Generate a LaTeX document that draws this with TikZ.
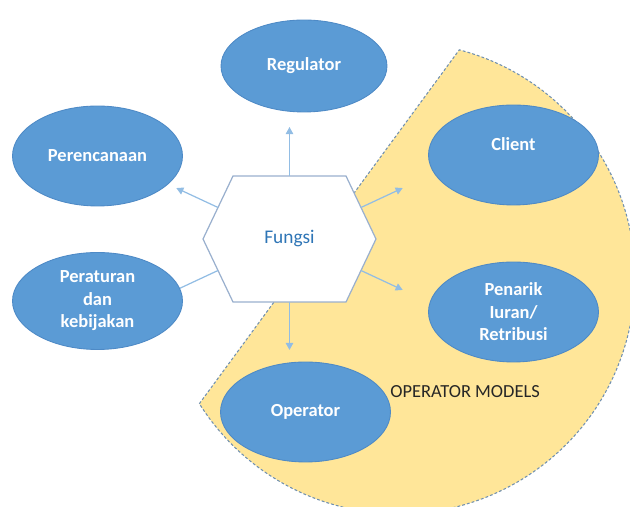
\documentclass[tikz,border=0pt]{standalone}
\usepackage{fontspec}
\setmainfont{Carlito}
\usepackage{tikz}
\usetikzlibrary{shapes.geometric, arrows.meta, calc}
\definecolor{opblue}{HTML}{5B9BD5}
\definecolor{opedge}{HTML}{4E8AC6}
\definecolor{opgold}{HTML}{FFE699}
\definecolor{opdash}{HTML}{7090B0}
\definecolor{ophex}{HTML}{9AB0CE}
\definecolor{oplink}{HTML}{92BDE4}
\definecolor{optext}{HTML}{2E75B6}
\tikzset{
  op ellipse/.style={
    ellipse, draw=opedge, fill=opblue, line width=0.5pt,
    minimum width=3.4cm, minimum height=2cm,
    text=white, align=center, inner sep=0pt,
    font=\fontsize{10.5}{12.8}\selectfont\bfseries
  },
  op hex/.style={
    draw=ophex, fill=white, line width=0.7pt
  },
  op zone/.style={
    fill=opgold, draw=opdash, line width=0.6pt,
    dash pattern=on 1.6pt off 1.2pt
  },
  op link/.style={
    -{Triangle[length=4pt,width=4.2pt]}, draw=oplink, line width=0.7pt
  },
  op label/.style={
    font=\fontsize{10.5}{12.8}\selectfont, text=black!85, inner sep=0pt
  }
}

\begin{document}
\begin{tikzpicture}[x=0.02cm, y=0.02cm]
  \useasboundingbox (0,0) rectangle (630,507);

  % operator models zone
  \coordinate (zc) at (399,229);
  \path[op zone] ($(zc)+(212.2:236)$) -- ($(zc)+(75.2:236)$)
    arc[start angle=75.2, end angle=-147.8, radius=4.72cm] -- cycle;

  % fungsi hexagon
  \coordinate (hx) at (289.5,268);
  \draw[op hex] ($(hx)+(-86.5,0)$) -- ++(30,63) -- ++(113,0) -- ++(30,-63)
    -- ++(-30,-63) -- ++(-113,0) -- cycle;
  \node (fungsi) at (hx) [font=\fontsize{11}{13}\selectfont, text=optext] {Fungsi};

  \coordinate (e-n)  at ($(hx)+(0,63)$);
  \coordinate (e-s)  at ($(hx)+(0,-63)$);
  \coordinate (e-nw) at ($(hx)+(-71.5,31.5)$);
  \coordinate (e-sw) at ($(hx)+(-71.5,-31.5)$);
  \coordinate (e-ne) at ($(hx)+(71.5,31.5)$);
  \coordinate (e-se) at ($(hx)+(71.5,-31.5)$);

  \coordinate (t-n)  at ($(e-n)+(90:49)$);
  \coordinate (t-s)  at ($(e-s)+(270:48)$);
  \coordinate (t-nw) at ($(e-nw)+(155:46)$);
  \coordinate (t-sw) at ($(e-sw)+(205:58)$);
  \coordinate (t-ne) at ($(e-ne)+(25:46)$);
  \coordinate (t-se) at ($(e-se)+(-25:46)$);

  \draw[op link] (e-n) -- (t-n);
  \draw[op link] (e-s) -- (t-s);
  \draw[op link] (e-nw) -- (t-nw);
  \draw[op link] (e-sw) -- (t-sw);
  \draw[op link] (e-ne) -- (t-ne);
  \draw[op link] (e-se) -- (t-se);

  % roles
  \node (regulator) at (304,441) [op ellipse, minimum width=3.32cm, minimum height=1.84cm] {Regulator};
  \node (perencanaan) at (97.5,351) [op ellipse] {Perencanaan};
  \node (peraturan) at (97.5,206) [op ellipse, minimum height=1.94cm] {Peraturan\\dan\\kebijakan};
  \node (client) at (513.5,352) [op ellipse] {Client\\\mbox{}};
  \node (penarik) at (513.5,195) [op ellipse] {Penarik\\Iuran/\\Retribusi};
  \node (operator) at (305.5,95) [op ellipse] {Operator};
  \node (models) at (390,115) [op label, anchor=west] {OPERATOR MODELS};
\end{tikzpicture}
\end{document}
